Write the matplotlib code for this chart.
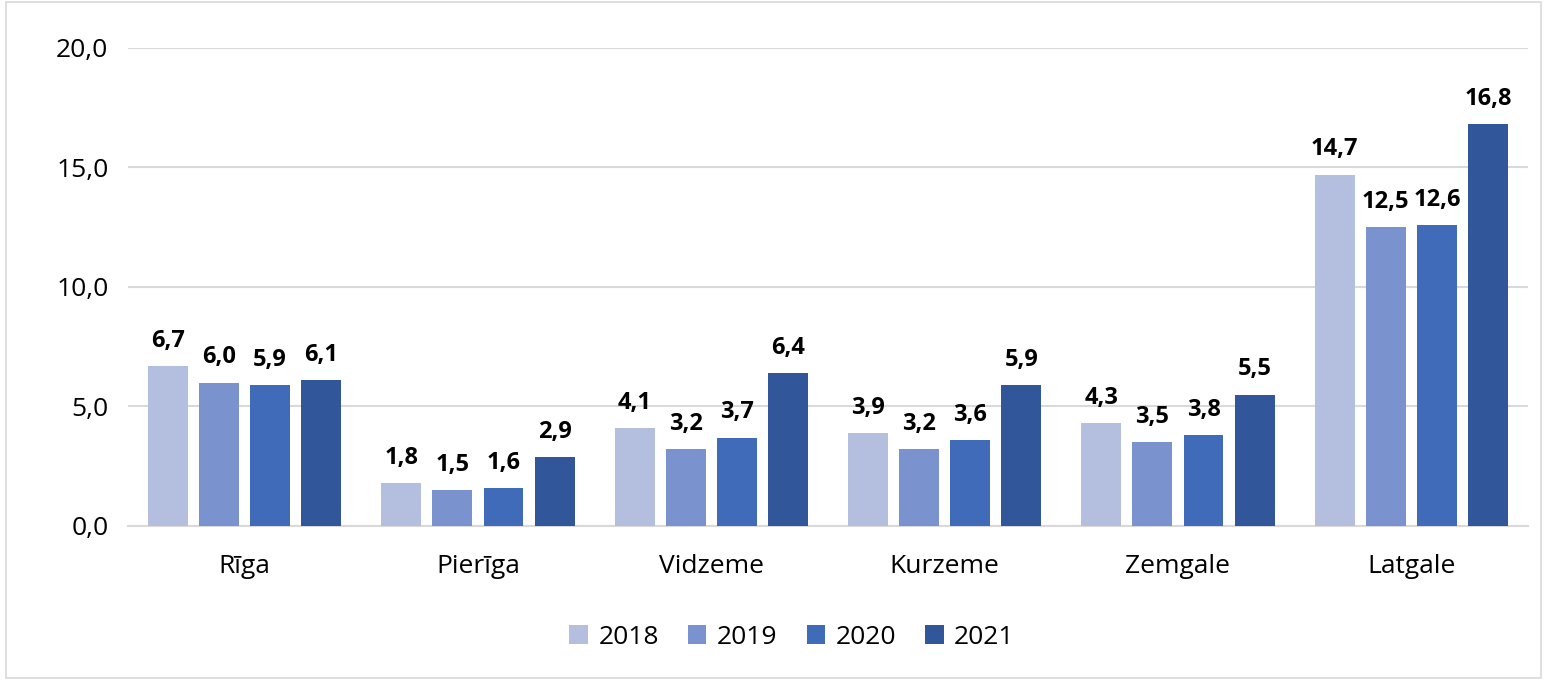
import numpy as np
import matplotlib.pyplot as plt
from matplotlib.patches import Rectangle

regions = ['Rīga', 'Pierīga', 'Vidzeme', 'Kurzeme', 'Zemgale', 'Latgale']
years = ['2018', '2019', '2020', '2021']
v2018 = [6.7, 1.8, 4.1, 3.9, 4.3, 14.7]
v2019 = [6.0, 1.5, 3.2, 3.2, 3.5, 12.5]
v2020 = [5.9, 1.6, 3.7, 3.6, 3.8, 12.6]
v2021 = [6.1, 2.9, 6.4, 5.9, 5.5, 16.8]
series = [v2018, v2019, v2020, v2021]
colors = ['#B4BFDF', '#7A93CF', '#3F6BB9', '#31579A']

plt.rcParams['font.family'] = ['Open Sans', 'DejaVu Sans']

fig = plt.figure(figsize=(15.47, 6.8), dpi=100)
ax = fig.add_axes([0.0827, 0.2265, 0.905, 0.703])

x = np.arange(len(regions))
width = 0.171
step = 0.219
for i, vals in enumerate(series):
    pos = x + (i - 1.5) * step
    bars = ax.bar(pos, vals, width, color=colors[i], label=years[i], zorder=3)
    for b, v in zip(bars, vals):
        ax.text(b.get_x() + b.get_width() / 2, v + 0.55, f'{v:.1f}'.replace('.', ','),
                ha='center', va='bottom', fontsize=17, fontweight='bold')

ax.set_xlim(-0.5, len(regions) - 0.5)
ax.set_ylim(0, 20)
ax.set_yticks([0, 5, 10, 15, 20])
ax.set_yticklabels([f'{t:.1f}'.replace('.', ',') for t in [0, 5, 10, 15, 20]], fontsize=19)
ax.set_xticks(x)
ax.set_xticklabels(regions, fontsize=19)
ax.tick_params(length=0)
ax.tick_params(axis='x', pad=20)
ax.tick_params(axis='y', pad=14)
ax.grid(axis='y', color='#D9D9D9', linewidth=1.5, zorder=0)
for s in ['top', 'right', 'left']:
    ax.spines[s].set_visible(False)
ax.spines['bottom'].set_color('#D9D9D9')
ax.spines['bottom'].set_linewidth(1.5)

fig.legend(loc='center', bbox_to_anchor=(0.512, 0.063), ncol=4, frameon=False,
           fontsize=19, handlelength=0.7, handleheight=0.7, handletextpad=0.4,
           columnspacing=1.1)

fig.add_artist(Rectangle((0.004, 0.003), 0.992, 0.994, transform=fig.transFigure,
                         fill=False, edgecolor='#D9D9D9', linewidth=1.2))

fig.savefig('out.png', dpi=100)
